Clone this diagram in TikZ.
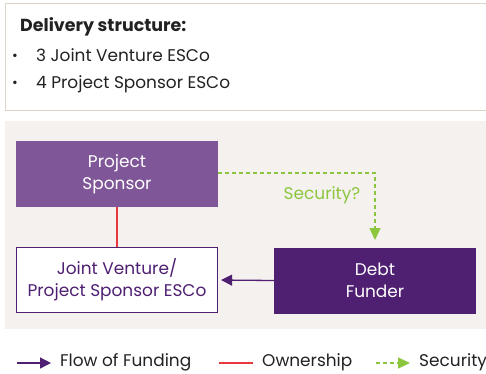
\documentclass[tikz,border=0pt]{standalone}
\usepackage{fontspec}
\setmainfont{Poppins}
\usetikzlibrary{arrows.meta}
\definecolor{bgpanel}{HTML}{F4F1EE}
\definecolor{boxline}{HTML}{DDD5CC}
\definecolor{pspurple}{HTML}{7F5799}
\definecolor{dfpurple}{HTML}{4F1F72}
\definecolor{secgreen}{HTML}{8CC63F}
\definecolor{ownred}{HTML}{E8383D}
\definecolor{txtdark}{HTML}{222222}
\tikzset{
  entity/.style={minimum width=202bp, minimum height=66bp, inner sep=0pt, align=center, font=\fontsize{17}{22.5}\selectfont},
  fundarrow/.style={draw=dfpurple, line width=1.3bp, -{Triangle[length=11bp,width=11bp]}},
  ownline/.style={draw=ownred, line width=1.3bp},
  secarrow/.style={draw=secgreen, line width=1.3bp, dash pattern=on 4bp off 3bp, -{Triangle[length=12bp,width=11bp]}},
  legtext/.style={anchor=west, inner sep=0pt, text=txtdark, font=\fontsize{17}{20}\selectfont},
  toptext/.style={anchor=base west, inner sep=0pt, text=txtdark, font=\fontsize{17}{20}\selectfont},
}
\begin{document}
\begin{tikzpicture}[x=1bp,y=-1bp]
\useasboundingbox (0,0) rectangle (486,373);
\fill[white] (0,0) rectangle (486,373);
% top info box
\draw[boxline, line width=1bp] (486,3.5) -- (5.5,3.5) -- (5.5,110) -- (486,110);
\node[toptext, font=\bfseries\fontsize{17.5}{20}\selectfont] (head) at (20,31) {Delivery structure:};
\node[toptext, font=\fontsize{14}{16}\selectfont] (d1) at (12,60) {\textbullet};
\node[toptext] (b1) at (36,61) {3 Joint Venture ESCo};
\node[toptext, font=\fontsize{14}{16}\selectfont] (d2) at (12,87) {\textbullet};
\node[toptext] (b2) at (36,88) {4 Project Sponsor ESCo};
% panel
\fill[bgpanel] (5,121) rectangle (486,329);
\node[entity, fill=pspurple, text=white] (ps) at (117,174) {Project\\Sponsor};
\node[entity, fill=white, draw=dfpurple, line width=1.2bp, minimum width=201bp, minimum height=65bp, text=dfpurple] (jv) at (117,280) {Joint Venture/\\Project Sponsor ESCo};
\node[entity, fill=dfpurple, text=white] (df) at (375,280.5) {Debt\\Funder};
\coordinate (sectip) at (375,240);
\draw[ownline] (ps.south) -- (jv.north);
\draw[fundarrow, shorten >=3bp] (df.west) -- (jv.east);
\draw[secarrow] (ps.east |- 0,173) -| (sectip);
\node[text=secgreen, font=\fontsize{17}{20}\selectfont, inner sep=0pt] (secq) at (322,195) {Security?};
% legend
\coordinate (l1a) at (17,363);
\coordinate (l1b) at (51,363);
\draw[fundarrow] (l1a) -- (l1b);
\node[legtext] (lt1) at (60,362) {Flow of Funding};
\coordinate (l2a) at (219,363);
\coordinate (l2b) at (253,363);
\draw[ownline] (l2a) -- (l2b);
\node[legtext] (lt2) at (262,362) {Ownership};
\coordinate (l3a) at (376,363);
\coordinate (l3b) at (410,363);
\draw[secarrow] (l3a) -- (l3b);
\node[legtext] (lt3) at (419,362) {Security};
\end{tikzpicture}
\end{document}
